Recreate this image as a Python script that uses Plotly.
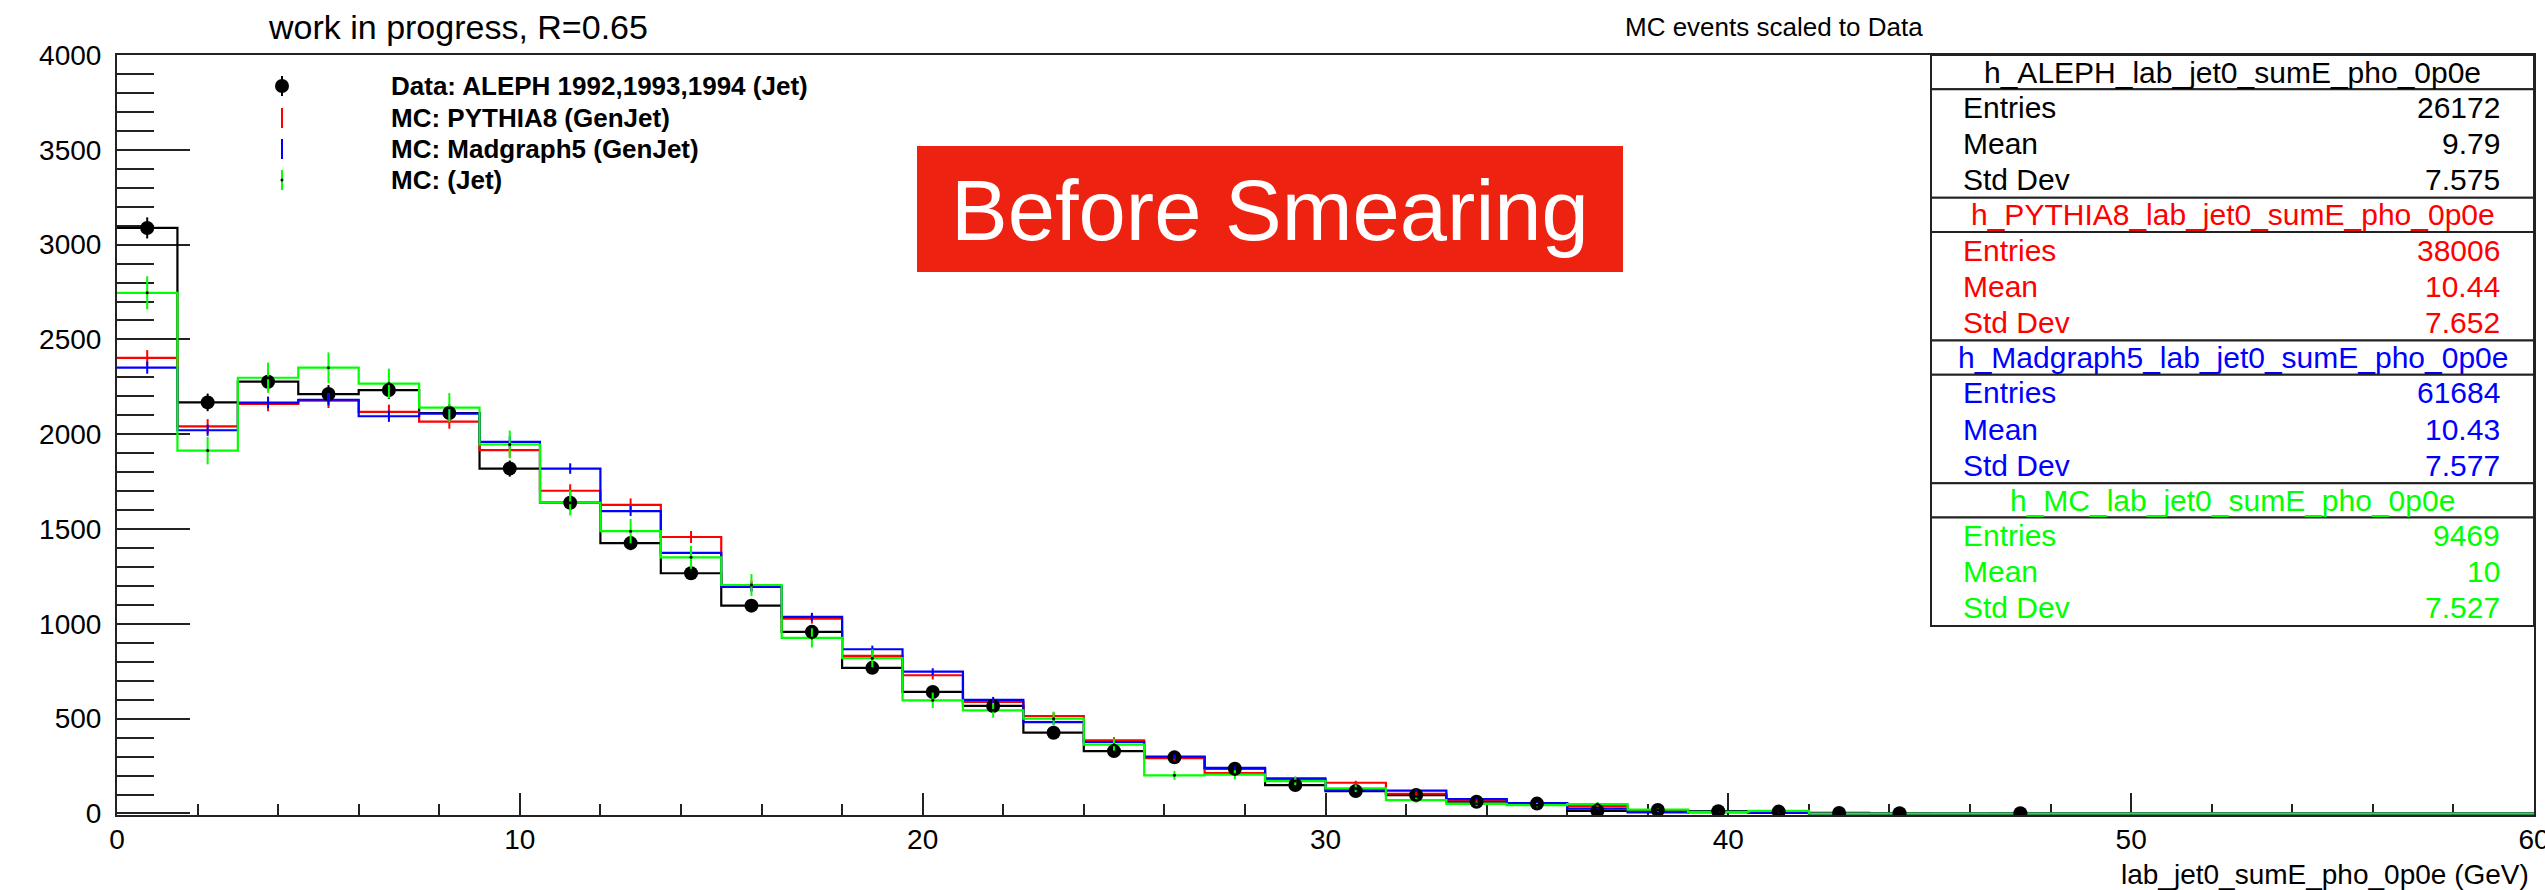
import numpy as np
import plotly.graph_objects as go

# ---- binning: 40 bins of 1.5 GeV from 0 to 60 ----
bin_edges = [i * 1.5 for i in range(41)]
bin_centers = [0.75 + i * 1.5 for i in range(40)]

# ---- bin contents (MC normalised to the data integral) ----
data_aleph = [3088, 2168, 2277, 2212, 2233, 2112, 1819, 1639, 1426, 1267,
              1096, 958, 768, 641, 567, 426, 329, 296, 236, 150,
              118, 97, 62, 52, 14, 18, 12, 10, 3, 1,
              0, 1, 0, 0, 0, 0, 0, 0, 0, 0]
mc_pythia8 = [2403, 2042, 2160, 2177, 2118, 2067, 1916, 1702, 1628, 1458,
              1198, 1028, 831, 729, 588, 514, 386, 292, 213, 176,
              162, 104, 69, 48, 39, 10, 6, 3, 0, 0,
              0, 0, 0, 0, 0, 0, 0, 0, 0, 0]
mc_madgraph5 = [2351, 2021, 2167, 2182, 2095, 2109, 1960, 1819, 1595, 1374,
                1195, 1037, 866, 748, 599, 482, 377, 300, 240, 185,
                123, 121, 76, 55, 26, 6, 9, 3, 0, 0,
                0, 0, 0, 0, 0, 0, 0, 0, 0, 0]
mc_jet = [2746, 1914, 2298, 2351, 2267, 2140, 1946, 1639, 1489, 1351,
          1205, 926, 819, 597, 544, 500, 363, 201, 205, 171,
          132, 70, 51, 44, 49, 20, 8, 14, 0, 0,
          0, 0, 0, 0, 0, 0, 0, 0, 0, 0]

# ---- statistics boxes ----
stat_names = ["h_ALEPH_lab_jet0_sumE_pho_0p0e", "h_PYTHIA8_lab_jet0_sumE_pho_0p0e",
              "h_Madgraph5_lab_jet0_sumE_pho_0p0e", "h_MC_lab_jet0_sumE_pho_0p0e"]
stat_entries = [26172, 38006, 61684, 9469]
stat_means = ["9.79", "10.44", "10.43", "10"]
stat_stddevs = ["7.575", "7.652", "7.577", "7.527"]

legend_labels = ["Data: ALEPH 1992,1993,1994 (Jet)", "MC: PYTHIA8 (GenJet)",
                 "MC: Madgraph5 (GenJet)", "MC: (Jet)"]

BLACK, RED, BLUE, GREEN = "#000000", "#ff0000", "#0000ff", "#00ff00"
FONT = "Liberation Sans, Arial, Helvetica, sans-serif"

# ---- canvas geometry (pixels) ----
W, H = 2545, 890
L, R, T, B = 117, 2534, 55, 815


def px(x):
    return (x - L) / (R - L)


def py(y):
    return (B - y) / (B - T)


fig = go.Figure()


def step_trace(vals, color):
    ys = list(vals) + [vals[-1]]
    return go.Scatter(x=bin_edges, y=ys, mode="lines", line=dict(color=color, width=2.2, shape="hv"),
                      hoverinfo="skip", showlegend=False)


def err_points(vals, entries, data=False):
    scale = 1.0 if data else stat_entries[0] / entries
    xs, ys, es = [], [], []
    for c, v in zip(bin_centers, vals):
        if v > 0:
            xs.append(c)
            ys.append(v)
            es.append(float(np.sqrt(v * scale)))
    return xs, ys, es


# histogram outlines
fig.add_trace(step_trace(data_aleph, BLACK))
fig.add_trace(step_trace(mc_pythia8, RED))
fig.add_trace(step_trace(mc_madgraph5, BLUE))
fig.add_trace(step_trace(mc_jet, GREEN))

# data points with statistical errors
xs, ys, es = err_points(data_aleph, stat_entries[0], data=True)
fig.add_trace(go.Scatter(x=xs, y=ys, mode="markers",
                         marker=dict(color=BLACK, size=14, symbol="circle"),
                         error_y=dict(type="data", array=es, color=BLACK, thickness=2, width=0),
                         showlegend=False, hoverinfo="skip"))

# MC error bars
for vals, n, col, dot in [(mc_pythia8, stat_entries[1], RED, 0),
                          (mc_madgraph5, stat_entries[2], BLUE, 0),
                          (mc_jet, stat_entries[3], GREEN, 3)]:
    xs, ys, es = err_points(vals, n)
    fig.add_trace(go.Scatter(x=xs, y=ys, mode="markers",
                             marker=dict(color=BLACK, size=dot, opacity=1 if dot else 0),
                             error_y=dict(type="data", array=es, color=col, thickness=2, width=0),
                             showlegend=False, hoverinfo="skip"))

shapes = []
annotations = []

# ---- legend ----
leg_rows = [86, 118, 149, 180]
leg_cols = [BLACK, RED, BLUE, GREEN]
mx = 282
for i, (yy, col, lab) in enumerate(zip(leg_rows, leg_cols, legend_labels)):
    shapes.append(dict(type="line", xref="paper", yref="paper", x0=px(mx), x1=px(mx),
                       y0=py(yy - 10), y1=py(yy + 10), line=dict(color=col, width=2)))
    if i == 0:
        shapes.append(dict(type="circle", xref="paper", yref="paper",
                           x0=px(mx - 7), x1=px(mx + 7), y0=py(yy + 7), y1=py(yy - 7),
                           fillcolor=BLACK, line=dict(color=BLACK, width=0)))
    if i == 3:
        shapes.append(dict(type="circle", xref="paper", yref="paper",
                           x0=px(mx - 1.5), x1=px(mx + 1.5), y0=py(yy + 1.5), y1=py(yy - 1.5),
                           fillcolor=BLACK, line=dict(color=BLACK, width=0)))
    annotations.append(dict(xref="paper", yref="paper", x=px(389), y=py(yy), text="<b>%s</b>" % lab,
                            showarrow=False, xanchor="left", yanchor="middle",
                            font=dict(family=FONT, size=26, color=BLACK)))

# ---- titles ----
annotations.append(dict(xref="paper", yref="paper", x=px(458), y=py(27), text="work in progress, R=0.65",
                        showarrow=False, xanchor="center", yanchor="middle",
                        font=dict(family=FONT, size=34, color=BLACK)))
annotations.append(dict(xref="paper", yref="paper", x=px(1623), y=py(27), text="MC events scaled to Data",
                        showarrow=False, xanchor="left", yanchor="middle",
                        font=dict(family=FONT, size=26, color=BLACK)))
annotations.append(dict(xref="paper", yref="paper", x=px(2531), y=py(874),
                        text="lab_jet0_sumE_pho_0p0e (GeV)",
                        showarrow=False, xanchor="right", yanchor="middle",
                        font=dict(family=FONT, size=28, color=BLACK)))

# ---- "Before Smearing" banner ----
shapes.append(dict(type="rect", xref="paper", yref="paper", x0=px(917), x1=px(1623),
                   y0=py(272), y1=py(146), fillcolor="#ed2210", line=dict(width=0)))
annotations.append(dict(xref="paper", yref="paper", x=px(1270), y=py(210), text="Before Smearing",
                        showarrow=False, xanchor="center", yanchor="middle",
                        font=dict(family=FONT, size=85, color="#ffffff")))

# ---- statistics boxes ----
bx0, bx1 = 1931, 2534
top = 55
sec_h = 142.75
head_h = 34.3
row_h = (sec_h - head_h) / 3
stat_cols = [BLACK, RED, BLUE, GREEN]
for i in range(4):
    s0 = top + i * sec_h
    col = stat_cols[i]
    shapes.append(dict(type="rect", xref="paper", yref="paper", x0=px(bx0), x1=px(bx1),
                       y0=py(s0 + head_h), y1=py(s0), fillcolor="#ffffff",
                       line=dict(color="#222222", width=2), layer="above"))
    shapes.append(dict(type="rect", xref="paper", yref="paper", x0=px(bx0), x1=px(bx1),
                       y0=py(s0 + sec_h), y1=py(s0 + head_h), fillcolor="#ffffff",
                       line=dict(color="#222222", width=2), layer="above"))
    annotations.append(dict(xref="paper", yref="paper", x=px((bx0 + bx1) / 2), y=py(s0 + head_h / 2),
                            text=stat_names[i], showarrow=False, xanchor="center", yanchor="middle",
                            font=dict(family=FONT, size=30, color=col)))
    rows = [("Entries", str(stat_entries[i])), ("Mean", stat_means[i]), ("Std Dev", stat_stddevs[i])]
    for k, (lab, val) in enumerate(rows):
        yy = s0 + head_h + row_h * (k + 0.5)
        annotations.append(dict(xref="paper", yref="paper", x=px(1961), y=py(yy), text=lab,
                                showarrow=False, xanchor="left", yanchor="middle",
                                font=dict(family=FONT, size=30, color=col)))
        annotations.append(dict(xref="paper", yref="paper", x=px(2502), y=py(yy), text=val,
                                showarrow=False, xanchor="right", yanchor="middle",
                                font=dict(family=FONT, size=30, color=col)))

axis_common = dict(showline=True, linecolor="#222222", linewidth=2, mirror=True,
                   ticks="inside", tickcolor="#222222", tickwidth=2, showgrid=False, zeroline=False,
                   tickfont=dict(family=FONT, size=28, color=BLACK), layer="below traces",
                   ticklabeloverflow="allow")

fig.update_layout(
    width=W, height=H,
    margin=dict(l=L, r=W - R, t=T, b=H - B, autoexpand=False),
    paper_bgcolor="#ffffff", plot_bgcolor="#ffffff",
    showlegend=False,
    shapes=shapes, annotations=annotations,
    xaxis=dict(range=[0, 60], tick0=0, dtick=10, ticklen=22,
               minor=dict(dtick=2, ticklen=11, ticks="inside", tickcolor="#222222", tickwidth=2),
               ticklabelstandoff=-2, **axis_common),
    yaxis=dict(range=[-8, 4000], tick0=0, dtick=500, ticklen=73,
               minor=dict(dtick=100, ticklen=37, ticks="inside", tickcolor="#222222", tickwidth=2),
               ticklabelstandoff=8, **axis_common),
)

fig.write_html("out.html")
